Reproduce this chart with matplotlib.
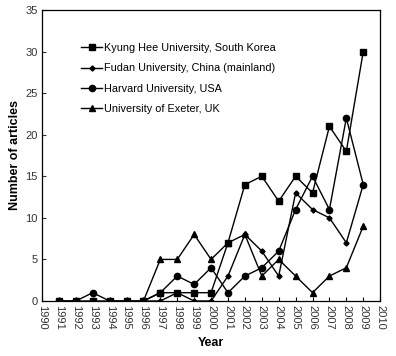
import matplotlib
matplotlib.use('Agg')
import matplotlib.pyplot as plt
from matplotlib.ticker import MultipleLocator

plt.rcParams['font.family'] = ['Liberation Sans', 'DejaVu Sans']

#------------------------------------------------------------------------------
# Articles per year for each institution
years_kyung = list(range(1991, 2010))
kyung_hee = [0, 0, 0, 0, 0, 0, 1, 1, 1, 1, 7, 14, 15, 12, 15, 13, 21, 18, 30]

years_fudan = list(range(1996, 2010))
fudan = [0, 0, 1, 0, 0, 3, 8, 6, 3, 13, 11, 10, 7, 14]

years_harvard = list(range(1991, 2010))
harvard = [0, 0, 1, 0, 0, 0, 1, 3, 2, 4, 1, 3, 4, 6, 11, 15, 11, 22, 14]

years_exeter = list(range(1996, 2010))
exeter = [0, 5, 5, 8, 5, 7, 8, 3, 5, 3, 1, 3, 4, 9]

labels = ['Kyung Hee University, South Korea',
          'Fudan University, China (mainland)',
          'Harvard University, USA',
          'University of Exeter, UK']

year_ticks = list(range(1990, 2011))

#------------------------------------------------------------------------------
fig = plt.figure(figsize=(3.96, 3.56), dpi=100)
ax = fig.add_axes([0.106, 0.1545, 0.854, 0.8175])

ax.plot(years_kyung, kyung_hee, color='black', lw=1, marker='s', ms=4.3,
        label=labels[0], zorder=5)
ax.plot(years_fudan, fudan, color='black', lw=1, marker='D', ms=2.6,
        label=labels[1], zorder=3)
ax.plot(years_harvard, harvard, color='black', lw=1, marker='o', ms=4.5,
        label=labels[2], zorder=4)
ax.plot(years_exeter, exeter, color='black', lw=1, marker='^', ms=4.5,
        label=labels[3], zorder=3)

ax.set_xlim(1990, 2010)
ax.set_ylim(0, 35)
ax.set_xticks(year_ticks)
ax.set_xticklabels([str(y) for y in year_ticks], rotation=-90, fontsize=8,
                   color='#333333')
ax.yaxis.set_major_locator(MultipleLocator(5))
ax.tick_params(axis='y', labelsize=8, colors='#333333')
ax.tick_params(direction='in', length=3, width=0.8, pad=3)
for s in ax.spines.values():
    s.set_linewidth(0.9)

ax.set_xlabel('Year', fontsize=9, fontweight='bold', labelpad=5)
ax.set_ylabel('Number of articles', fontsize=9, fontweight='bold', labelpad=3)

ax.legend(loc='upper left', bbox_to_anchor=(0.1, 0.905), frameon=False,
          fontsize=7.8, handlelength=1.9, handletextpad=0.2, labelspacing=0.95,
          borderpad=0)

fig.savefig('out.png', dpi=100)
